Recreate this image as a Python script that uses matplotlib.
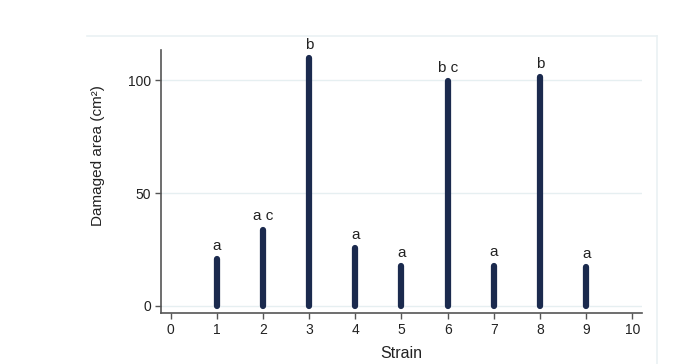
import matplotlib
matplotlib.use("Agg")
import matplotlib.pyplot as plt
from matplotlib.lines import Line2D

strains = [1, 2, 3, 4, 5, 6, 7, 8, 9]
damaged_area = [20.8, 33.8, 109.7, 25.5, 17.6, 99.4, 17.9, 101.2, 17.1]
group_letters = ["a", "a c", "b", "a", "a", "b c", "a", "b", "a"]
x_ticks = list(range(0, 11))
y_ticks = [0, 50, 100]

plt.rcParams['font.family'] = ['Liberation Sans', 'DejaVu Sans']

W, H = 698, 364
fig = plt.figure(figsize=(W / 100, H / 100), dpi=100)
fig.patch.set_facecolor("white")

# outer light frame (graph region)
frame_col = "#eaf1f3"
fig.add_artist(Line2D([87 / W, 657 / W], [1 - 36 / H, 1 - 36 / H], color=frame_col, lw=1.2))
fig.add_artist(Line2D([657 / W, 657 / W], [1 - 36 / H, 0], color=frame_col, lw=1.2))

ax = fig.add_axes([161 / W, 1 - 313 / H, (642 - 161) / W, (313 - 50) / H])
ax.set_facecolor("white")

bar_col = "#1b2a4e"
ax.vlines(strains, 0, damaged_area, colors=bar_col, linewidth=4.5, capstyle="round", zorder=3)

for x, v, lab in zip(strains, damaged_area, group_letters):
    ax.annotate(lab, (x, v), xytext=(0, 4.5), textcoords="offset points",
                ha="center", va="bottom", fontsize=11, color="#222222", zorder=4)

ax.set_xlim(-0.21, 10.21)
ax.set_ylim(-3.1, 113.3)
ax.set_xticks(x_ticks)
ax.set_yticks(y_ticks)
ax.tick_params(axis="both", direction="out", length=4, width=1, color="#555555",
               labelsize=10, labelcolor="#222222", pad=3)
ax.grid(axis="y", color="#e6eff1", linewidth=1.0, zorder=0)
ax.set_axisbelow(True)

for s in ["top", "right"]:
    ax.spines[s].set_visible(False)
for s in ["left", "bottom"]:
    ax.spines[s].set_color("#555555")
    ax.spines[s].set_linewidth(1.2)

ax.set_xlabel("Strain", fontsize=11.5, color="#222222", labelpad=7)
ax.set_ylabel("Damaged area (cm²)", fontsize=11, color="#222222")
ax.yaxis.set_label_coords(-0.117, 0.6)

fig.savefig("out.png", dpi=100, facecolor="white")
